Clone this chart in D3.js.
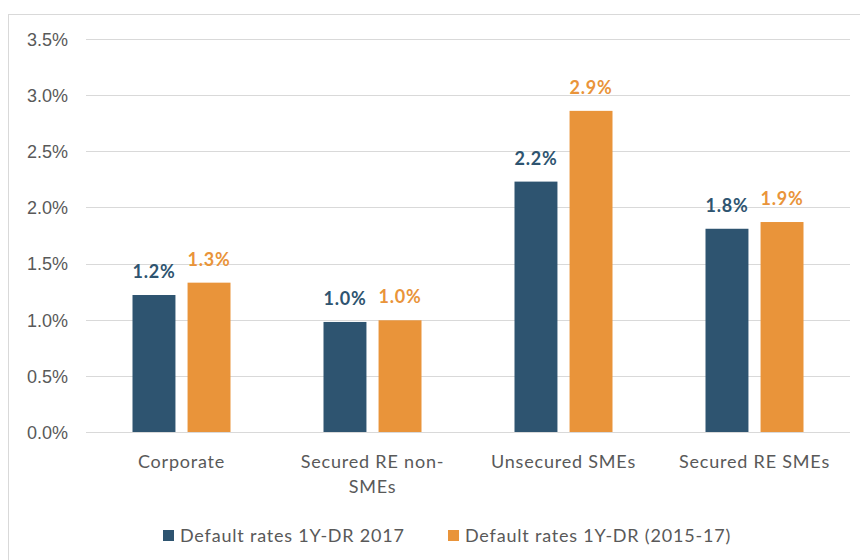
<!DOCTYPE html>
<html>
<head>
<meta charset="utf-8">
<script src="https://cdn.jsdelivr.net/npm/d3@7"></script>
<style>
  body { margin: 0; background: #fff; }
  svg { font-family: Lato, "Open Sans", sans-serif; }
  .axis text { fill: #595959; font-size: 18px; }
  .cat text, .legend text { letter-spacing: 0.8px; }
  .grid line { stroke: #d9d9d9; }
</style>
</head>
<body>
<svg id="chart"></svg>
<script>
// data
const categories = [['Corporate'], ['Secured RE non-', 'SMEs'], ['Unsecured SMEs'], ['Secured RE SMEs']];
const seriesNames = ['Default rates  1Y-DR 2017', 'Default rates  1Y-DR (2015-17)'];
const dr2017 = [1.22, 0.98, 2.23, 1.81];
const dr2015_17 = [1.33, 0.995, 2.86, 1.87];
const labels2017 = ['1.2%', '1.0%', '2.2%', '1.8%'];
const labels2015_17 = ['1.3%', '1.0%', '2.9%', '1.9%'];
const yTicks = [0, 0.5, 1, 1.5, 2, 2.5, 3, 3.5];

const colors = ['#2e5470', '#e9943a'];

const width = 860, height = 560;
const margin = {top: 39, right: 10, bottom: 128, left: 86};

const svg = d3.select('#chart').attr('width', width).attr('height', height);

// chart frame
svg.append('rect')
    .attr('x', 8.5).attr('y', 14.5)
    .attr('width', 860).attr('height', 560)
    .attr('fill', 'none').attr('stroke', '#d9d9d9');

const innerW = 850 - margin.left;
const innerH = 432 - margin.top;
const chart = svg.append('g').attr('transform', `translate(${margin.left},${margin.top})`);

const keys = categories.map((c, i) => i);
const x0 = d3.scaleBand().domain(keys).range([0, innerW]).paddingInner(0).paddingOuter(0);
const x1 = d3.scaleBand().domain([0, 1]).range([x0.bandwidth() / 2 - 49, x0.bandwidth() / 2 + 49]).paddingInner(0.22);
const y = d3.scaleLinear().domain([0, 3.5]).range([innerH, 0]);

// gridlines
chart.append('g').attr('class', 'grid')
    .selectAll('line').data(yTicks).join('line')
    .attr('x1', 0).attr('x2', innerW)
    .attr('y1', d => Math.round(y(d)) + 0.5).attr('y2', d => Math.round(y(d)) + 0.5);

// y axis labels
const yAxis = d3.axisLeft(y).tickValues(yTicks).tickFormat(d => d.toFixed(1) + '%').tickSize(0).tickPadding(18);
chart.append('g').attr('class', 'axis').call(yAxis)
    .call(g => g.select('.domain').remove())
    .call(g => g.selectAll('text').attr('dy', '0.35em'));

// bars
const rows = keys.map(i => ({i, vals: [dr2017[i], dr2015_17[i]], labs: [labels2017[i], labels2015_17[i]]}));
const groups = chart.selectAll('.grp').data(rows).join('g')
    .attr('class', 'grp')
    .attr('transform', d => `translate(${x0(d.i)},0)`);

groups.selectAll('rect').data(d => d.vals.map((v, s) => ({v, s}))).join('rect')
    .attr('x', d => x1(d.s))
    .attr('width', x1.bandwidth())
    .attr('y', d => y(d.v))
    .attr('height', d => innerH - y(d.v))
    .attr('fill', d => colors[d.s]);

groups.selectAll('text.lab').data(d => d.vals.map((v, s) => ({v, s, t: d.labs[s]}))).join('text')
    .attr('class', 'lab')
    .attr('x', d => x1(d.s) + x1.bandwidth() / 2)
    .attr('y', d => y(d.v) - 17)
    .attr('text-anchor', 'middle')
    .attr('fill', d => colors[d.s])
    .style('font-size', '18px').style('font-weight', 'bold').style('letter-spacing', '0.8px')
    .text(d => d.t);

// x category labels
const xl = chart.append('g').attr('class', 'axis cat');
xl.selectAll('text').data(rows).join('text')
    .attr('y', innerH + 36)
    .attr('text-anchor', 'middle')
    .each(function(d) {
        d3.select(this).selectAll('tspan').data(categories[d.i]).join('tspan')
            .attr('x', x0(d.i) + x0.bandwidth() / 2)
            .attr('dy', (t, j) => j === 0 ? 0 : 25)
            .text(t => t);
    });

// legend
const legX = [163, 448];
const leg = svg.append('g').attr('class', 'axis legend');
seriesNames.forEach((name, s) => {
    leg.append('rect').attr('x', legX[s]).attr('y', 530).attr('width', 11).attr('height', 11).attr('fill', colors[s]);
    leg.append('text').attr('x', legX[s] + 17).attr('y', 542).text(name);
});
</script>
</body>
</html>
